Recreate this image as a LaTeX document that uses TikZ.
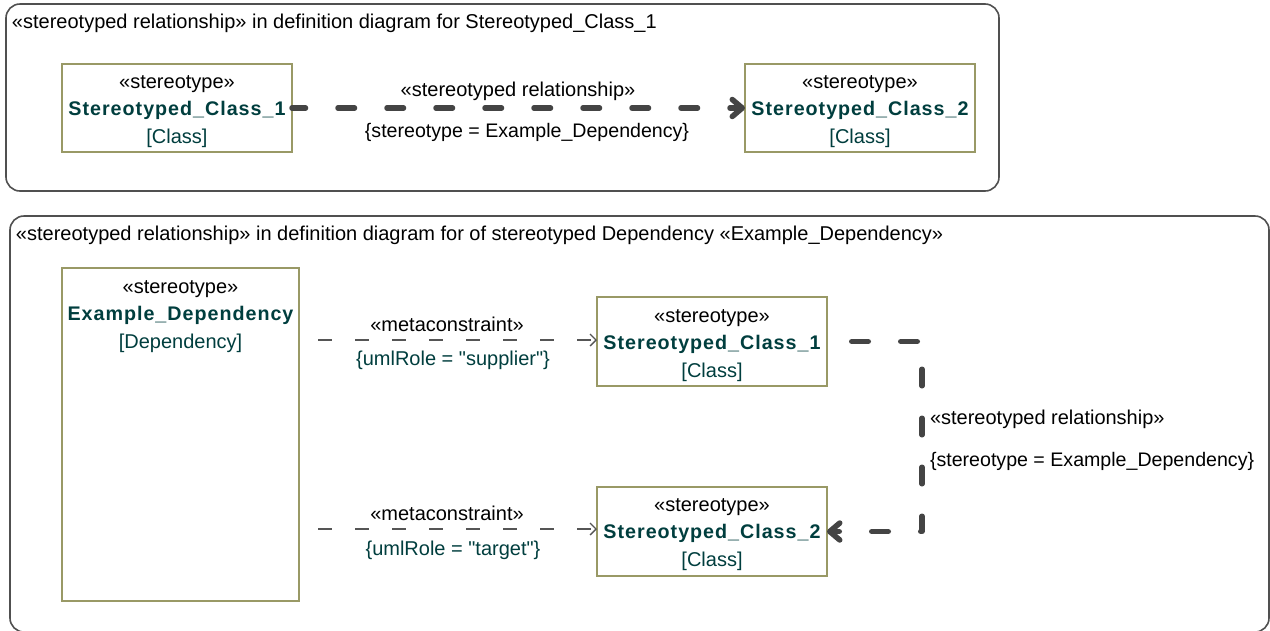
\documentclass[tikz,border=0pt]{standalone}
\usepackage{fontspec}
\setmainfont{Liberation Sans}
\newfontfamily\namefont{Liberation Sans}[LetterSpace=5]
\usetikzlibrary{arrows.meta}
\definecolor{framegray}{RGB}{80,80,80}
\definecolor{olivebox}{RGB}{153,153,102}
\definecolor{tealtext}{RGB}{0,62,62}
\definecolor{linkgray}{RGB}{68,68,68}
\definecolor{metagray}{RGB}{85,85,85}

\begin{document}
\begin{tikzpicture}[x=1pt,y=-1pt,
  every node/.style={inner sep=0pt, outer sep=0pt},
  frame/.style={draw=framegray, line width=1.6pt, rounded corners=14pt},
  classbox/.style={draw=olivebox, fill=white, line width=1.5pt,
    minimum width=230pt, minimum height=88pt},
  txt/.style={font=\fontsize{20}{24}\selectfont, text height=17.5pt, text depth=4.5pt},
  tagtxt/.style={font=\fontsize{19.6}{24}\selectfont, text height=17.5pt, text depth=4.5pt},
  cname/.style={font=\namefont\bfseries\fontsize{19.7}{24}\selectfont,
    text=tealtext, text height=17.5pt, text depth=4.5pt},
  ckind/.style={txt, text=tealtext},
  thickdep/.style={draw=linkgray, line width=5.5pt, line cap=round, line join=round,
    dash pattern=on 16.5pt off 32.5pt,
    -{Straight Barb[length=10pt,width=17pt,round]}},
  metadep/.style={draw=metagray, line width=1.3pt,
    dash pattern=on 14pt off 23pt, dash phase=18pt,
    -{Straight Barb[length=6pt,width=12pt]}}
]
\useasboundingbox (0,0) rectangle (1270,630);
\fill[white] (0,0) rectangle (1270,630);
\clip (0,0) rectangle (1270,630);

% ---- upper frame: definition diagram for Stereotyped_Class_1 ----
\draw[frame] (6,4) rectangle (999,191);
\node[txt, anchor=west] (title1) at (12,22)
  {«stereotyped relationship» in definition diagram for Stereotyped\_Class\_1};

\node[classbox] (a1) at (177,108) {};
\node[txt]   (a1s) at (177,82)  {«stereotype»};
\node[cname] (a1n) at (177,109) {Stereotyped\_Class\_1};
\node[ckind] (a1k) at (177,137) {[Class]};

\node[classbox] (a2) at (860,108) {};
\node[txt]   (a2s) at (860,82)  {«stereotype»};
\node[cname] (a2n) at (860,109) {Stereotyped\_Class\_2};
\node[ckind] (a2k) at (860,137) {[Class]};

\draw[thickdep, dash phase=3pt] (a1.east) -- (a2.west);
\node[txt] (a12top) at (518,90) {«stereotyped relationship»};
\node[tagtxt] (a12bot) at (527,131) {\{stereotype = Example\_Dependency\}};

% ---- lower frame: definition diagram of the stereotyped Dependency ----
\draw[frame] (10,216) rectangle (1269,632);
\node[txt, anchor=west] (title2) at (16,234)
  {«stereotyped relationship» in definition diagram for of stereotyped Dependency «Example\_Dependency»};

\node[classbox, minimum width=237pt, minimum height=333pt] (b0) at (180.5,434.5) {};
\node[txt]   (b0s) at (180.5,287) {«stereotype»};
\node[cname] (b0n) at (180.5,314) {Example\_Dependency};
\node[ckind] (b0k) at (180.5,342) {[Dependency]};

\node[classbox, minimum height=89pt] (b1) at (712,341.5) {};
\node[txt]   (b1s) at (712,316) {«stereotype»};
\node[cname] (b1n) at (712,343) {Stereotyped\_Class\_1};
\node[ckind] (b1k) at (712,371) {[Class]};

\node[classbox, minimum height=89pt] (b2) at (712,531.5) {};
\node[txt]   (b2s) at (712,505) {«stereotype»};
\node[cname] (b2n) at (712,532) {Stereotyped\_Class\_2};
\node[ckind] (b2k) at (712,560) {[Class]};

% metaconstraints from the stereotype to its two ends
\draw[metadep] ([yshift=1.5pt]b0.east |- b1.west) -- ([yshift=1.5pt]b1.west);
\node[txt]   (m1top) at (447,325) {«metaconstraint»};
\node[ckind] (m1bot) at (453,359) {\{umlRole = \textquotedbl supplier\textquotedbl\}};

\draw[metadep] ([yshift=2.5pt]b0.east |- b2.west) -- ([yshift=2.5pt]b2.west);
\node[txt]   (m2top) at (447,514) {«metaconstraint»};
\node[ckind] (m2bot) at (453,549) {\{umlRole = \textquotedbl target\textquotedbl\}};

% the stereotyped relationship between the two classes
\draw[thickdep, dash phase=24.25pt] (b1.east) -- ++(95,0) |- (b2.east);
\node[txt, anchor=west] (b12top) at (930,418) {«stereotyped relationship»};
\node[tagtxt, anchor=west] (b12bot) at (930,460) {\{stereotype = Example\_Dependency\}};
\end{tikzpicture}
\end{document}
